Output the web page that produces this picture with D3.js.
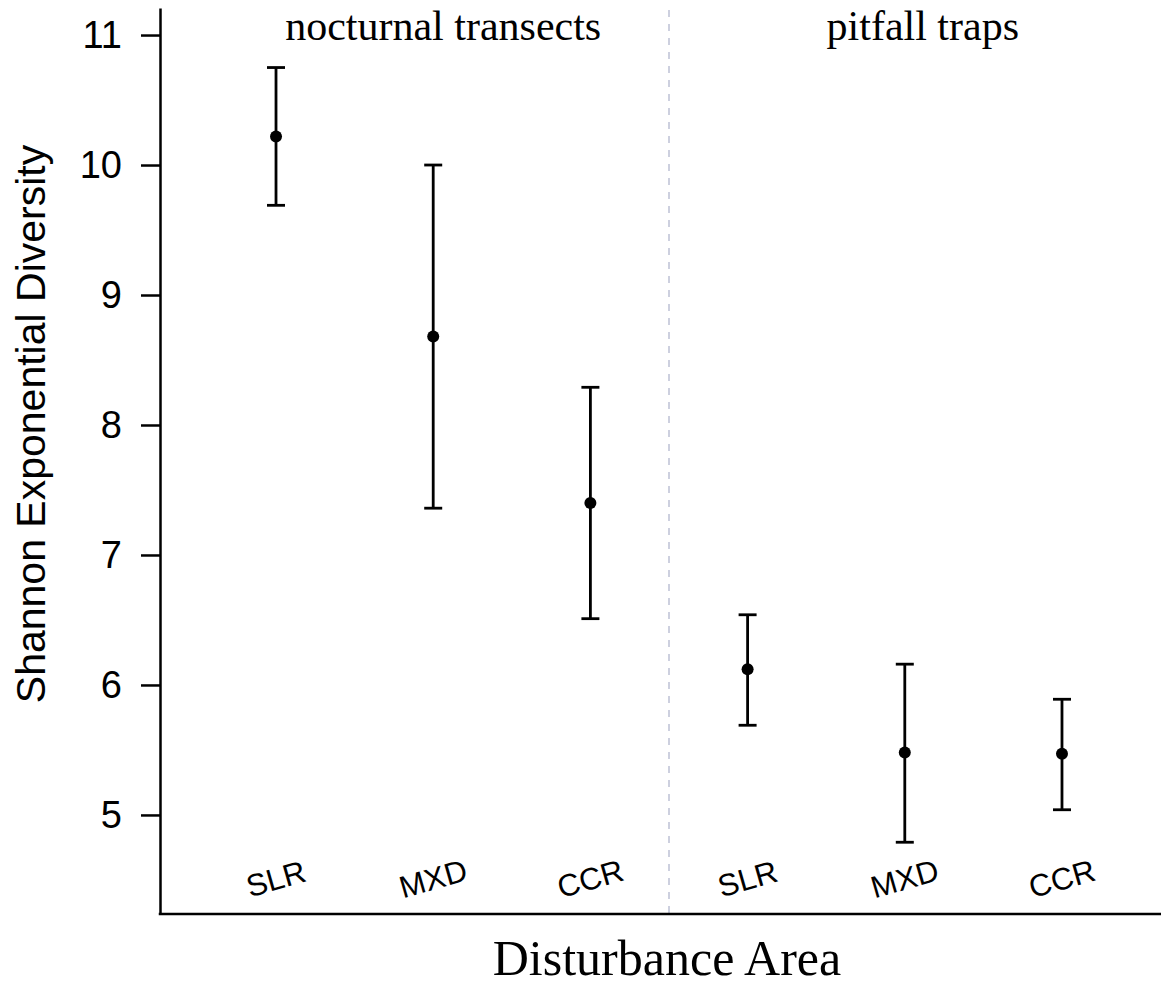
<!DOCTYPE html>
<html>
<head>
<meta charset="utf-8">
<script src="https://cdn.jsdelivr.net/npm/d3@7"></script>
<style>
  body { margin: 0; background: #fff; }
  svg { display: block; }
</style>
</head>
<body>
<div id="chart"></div>
<script>
// data
const groups = ['nocturnal transects', 'pitfall traps'];
const sites = ['SLR', 'MXD', 'CCR'];
const means = [10.22, 8.68, 7.40, 6.12, 5.48, 5.47];
const upper = [10.75, 10.00, 8.29, 6.54, 6.16, 5.89];
const lower = [9.69, 7.36, 6.51, 5.69, 4.79, 5.04];
const yTicks = [5, 6, 7, 8, 9, 10, 11];

let width = 1161;
let height = 986;

let plot = { left: 160, right: 1178, top: 8, bottom: 914 };

const rows = [];
groups.forEach((g, gi) => {
    sites.forEach((s, si) => {
        const i = gi * sites.length + si;
        rows.push({ key: g + '|' + s, group: g, site: s, mean: means[i], hi: upper[i], lo: lower[i] });
    });
});

let svg = d3.select('#chart')
    .append('svg')
    .attr('width', width)
    .attr('height', height);

const xScale = d3.scalePoint()
    .domain(rows.map(d => d.key))
    .range([plot.left, plot.right])
    .padding(0.738);

const yScale = d3.scaleLinear()
    .domain([4.238, 11.208])
    .range([plot.bottom, plot.top]);

// divider between the two sampling methods
const divX = (xScale(rows[2].key) + xScale(rows[3].key)) / 2;
svg.append('line')
    .attr('x1', divX).attr('x2', divX)
    .attr('y1', plot.top + 2).attr('y2', plot.bottom)
    .attr('stroke', '#cdd0df')
    .attr('stroke-width', 2)
    .attr('stroke-dasharray', '7,7');

// y axis
const yAxis = d3.axisLeft(yScale)
    .tickValues(yTicks)
    .tickSize(19)
    .tickSizeOuter(0)
    .tickPadding(19)
    .tickFormat(d3.format('d'));

const yg = svg.append('g')
    .attr('transform', `translate(${plot.left},0)`)
    .call(yAxis);
yg.select('.domain').attr('stroke', '#000').attr('stroke-width', 2.5);
yg.selectAll('.tick line').attr('stroke', '#000').attr('stroke-width', 2.5);
yg.selectAll('.tick text')
    .attr('fill', '#000')
    .style('font-family', '"Liberation Sans", Arial, sans-serif')
    .style('font-size', '38px');

// x axis line
svg.append('line')
    .attr('x1', plot.left - 1.25).attr('x2', width)
    .attr('y1', plot.bottom).attr('y2', plot.bottom)
    .attr('stroke', '#000')
    .attr('stroke-width', 2.5);

// category labels, tilted
svg.selectAll('.cat-label')
    .data(rows)
    .enter()
    .append('text')
    .attr('class', 'cat-label')
    .attr('transform', d => `translate(${xScale(d.key)},${879}) rotate(-16)`)
    .attr('text-anchor', 'middle')
    .attr('dominant-baseline', 'central')
    .style('font-family', '"Liberation Sans", Arial, sans-serif')
    .style('font-size', '31px')
    .text(d => d.site);

// error bars
const capW = 9;
const bars = svg.selectAll('.err')
    .data(rows)
    .enter()
    .append('g')
    .attr('class', 'err')
    .attr('stroke', '#000')
    .attr('stroke-width', 2.8);

bars.append('line')
    .attr('x1', d => xScale(d.key)).attr('x2', d => xScale(d.key))
    .attr('y1', d => yScale(d.hi)).attr('y2', d => yScale(d.lo));
bars.append('line')
    .attr('x1', d => xScale(d.key) - capW).attr('x2', d => xScale(d.key) + capW)
    .attr('y1', d => yScale(d.hi)).attr('y2', d => yScale(d.hi));
bars.append('line')
    .attr('x1', d => xScale(d.key) - capW).attr('x2', d => xScale(d.key) + capW)
    .attr('y1', d => yScale(d.lo)).attr('y2', d => yScale(d.lo));

svg.selectAll('.pt')
    .data(rows)
    .enter()
    .append('circle')
    .attr('class', 'pt')
    .attr('cx', d => xScale(d.key))
    .attr('cy', d => yScale(d.mean))
    .attr('r', 6)
    .attr('fill', '#000');

// panel titles
const panelOffset = [10, 18];
groups.forEach((g, gi) => {
    const mid = rows[gi * sites.length + 1].key;
    svg.append('text')
        .attr('x', xScale(mid) + panelOffset[gi])
        .attr('y', 40)
        .attr('text-anchor', 'middle')
        .style('font-family', '"Liberation Serif", "Times New Roman", serif')
        .style('font-size', '42px')
        .text(g);
});

// axis titles
svg.append('text')
    .attr('x', 667)
    .attr('y', 975)
    .attr('text-anchor', 'middle')
    .style('font-family', '"Liberation Serif", "Times New Roman", serif')
    .style('font-size', '50px')
    .text('Disturbance Area');

svg.append('text')
    .attr('transform', 'translate(45,424) rotate(-90)')
    .attr('text-anchor', 'middle')
    .style('font-family', '"Liberation Sans", Arial, sans-serif')
    .style('font-size', '41px')
    .text('Shannon Exponential Diversity');
</script>
</body>
</html>
